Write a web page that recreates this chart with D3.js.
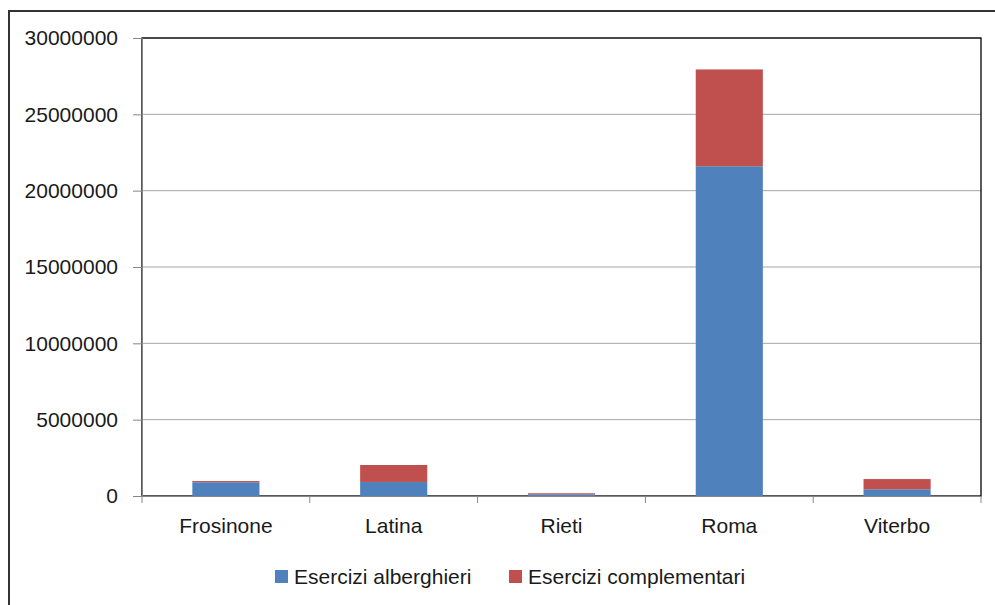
<!DOCTYPE html>
<html>
<head>
<meta charset="utf-8">
<script src="https://cdn.jsdelivr.net/npm/d3@7"></script>
<style>
  body { margin: 0; background: #fff; }
  text { font-family: "Liberation Sans", Arial, sans-serif; fill: #1a1a1a; }
</style>
</head>
<body>
<div id="chart"></div>
<script>
// province names and the two series (presenze)
const categories = ["Frosinone", "Latina", "Rieti", "Roma", "Viterbo"];
const alberghieri = [900000, 920000, 110000, 21600000, 440000];
const complementari = [80000, 1110000, 70000, 6340000, 670000];
const seriesNames = ["Esercizi alberghieri", "Esercizi complementari"];
const colors = ["#4F81BD", "#C0504D"];
const yTicks = [0, 5000000, 10000000, 15000000, 20000000, 25000000, 30000000];

const W = 995, H = 605;
const margin = {top: 38, right: 14, bottom: 109, left: 142},
      w = W - margin.left - margin.right,
      h = H - margin.top - margin.bottom;
const fontSize = "21px";

const svg = d3.select("#chart").append("svg")
  .attr("width", W).attr("height", H);

// outer chart frame (runs off the right / bottom of the picture)
svg.append("rect")
  .attr("x", 9).attr("y", 11)
  .attr("width", W + 20).attr("height", H + 20)
  .attr("fill", "none").attr("stroke", "#333").attr("stroke-width", 2);

const g = svg.append("g")
  .attr("transform", "translate(" + margin.left + "," + margin.top + ")");

const rows = categories.map(function(c, i) {
  return {cat: c, a: alberghieri[i], b: complementari[i]};
});
const stacked = d3.stack().keys(["a", "b"])(rows);

const x = d3.scaleBand().domain(categories).range([0, w]).paddingInner(0.6).paddingOuter(0.3);
const xTickScale = d3.scaleBand().domain(categories).range([0, w]);
const y = d3.scaleLinear().domain([0, 30000000]).range([h, 0]);

// gridlines
g.selectAll("line.grid")
  .data(yTicks.slice(1))
  .enter().append("line")
  .attr("class", "grid")
  .attr("x1", 0).attr("x2", w)
  .attr("y1", d => y(d)).attr("y2", d => y(d))
  .attr("stroke", "#a6a6a6").attr("stroke-width", 1);

// plot area border (top / right)
g.append("rect")
  .attr("x", 0).attr("y", 0).attr("width", w).attr("height", h)
  .attr("fill", "none").attr("stroke", "#000").attr("stroke-width", 1.3);

// bars
g.selectAll("g.series")
  .data(stacked)
  .enter().append("g")
  .attr("class", "series")
  .attr("fill", (d, i) => colors[i])
  .selectAll("rect")
  .data(d => d)
  .enter().append("rect")
  .attr("x", d => x(d.data.cat))
  .attr("width", x.bandwidth())
  .attr("y", d => y(d[1]))
  .attr("height", d => y(d[0]) - y(d[1]));

// y axis
const yAxis = d3.axisLeft(y).tickValues(yTicks).tickSize(9).tickPadding(15).tickFormat(d3.format("d"));
const gY = g.append("g").call(yAxis);
gY.select(".domain").attr("stroke", "#868686");
gY.selectAll(".tick line").attr("stroke", "#868686");
gY.selectAll(".tick text").style("font-size", fontSize).attr("fill", "#1a1a1a");

// x axis: ticks on band boundaries
const gX = g.append("g").attr("transform", "translate(0," + h + ")")
  .call(d3.axisBottom(x).tickSize(0).tickPadding(22));
gX.select(".domain").attr("stroke", "#868686");
gX.selectAll(".tick text").style("font-size", fontSize).attr("fill", "#1a1a1a");
const bounds = categories.map(c => xTickScale(c)).concat([w]);
gX.selectAll("line.bnd")
  .data(bounds)
  .enter().append("line")
  .attr("class", "bnd")
  .attr("x1", d => d).attr("x2", d => d)
  .attr("y1", 0).attr("y2", 7)
  .attr("stroke", "#868686");

// legend
const legendX = [275, 509];
const legend = svg.selectAll("g.legend")
  .data(seriesNames)
  .enter().append("g")
  .attr("class", "legend")
  .attr("transform", (d, i) => "translate(" + legendX[i] + ",570)");
legend.append("rect")
  .attr("width", 13).attr("height", 13)
  .attr("fill", (d, i) => colors[i]);
legend.append("text")
  .attr("x", 19).attr("y", 13.5)
  .style("font-size", fontSize)
  .text(d => d);
</script>
</body>
</html>
